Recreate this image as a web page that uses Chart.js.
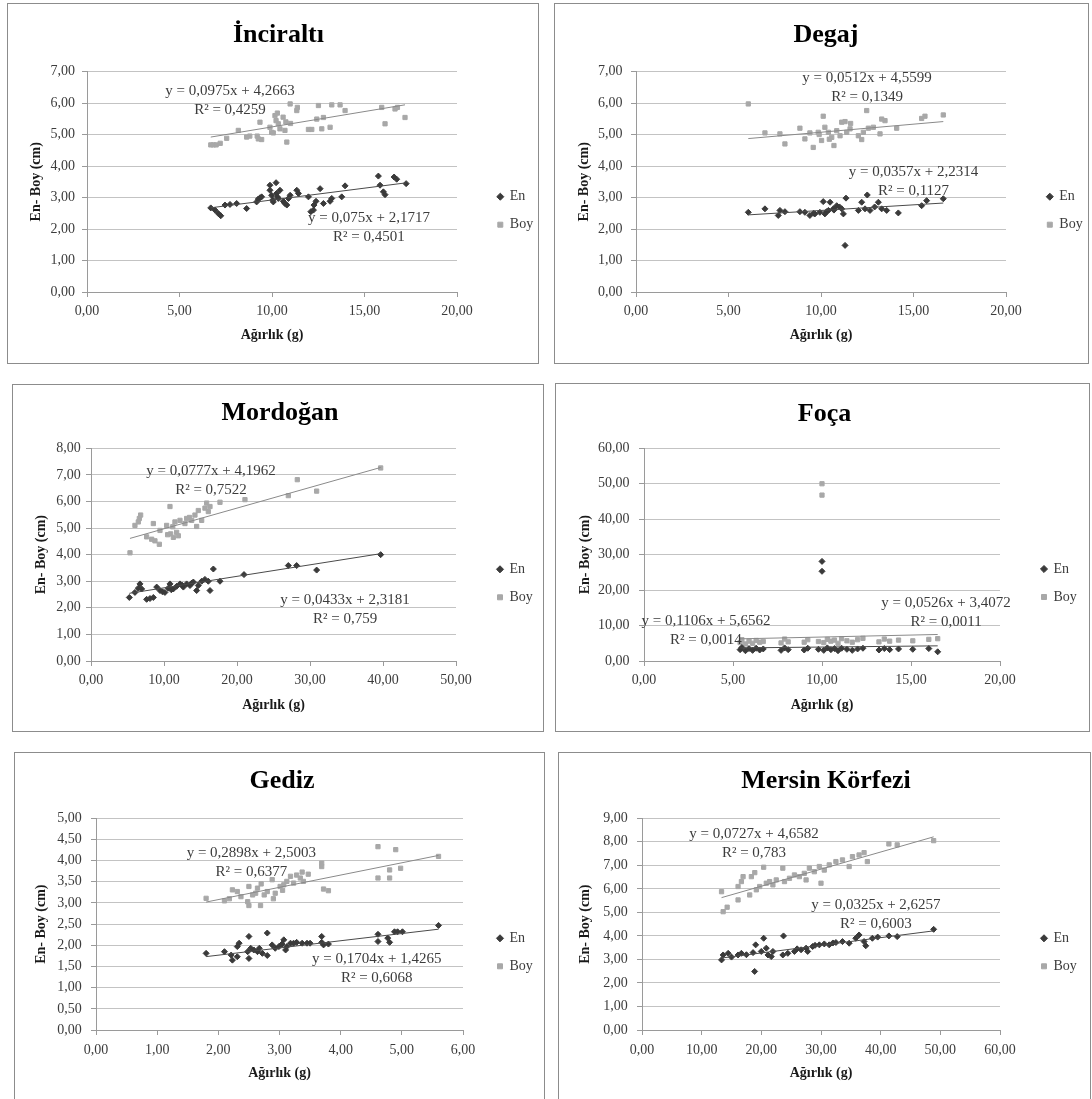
<!DOCTYPE html>
<html>
<head>
<meta charset="utf-8">
<script src="https://cdn.jsdelivr.net/npm/chart.js@4.4.1/dist/chart.umd.min.js"></script>
<style>
  html, body { margin: 0; padding: 0; background: #ffffff; width: 1092px; height: 1099px; overflow: hidden; position: relative; }
  .frame { position: absolute; box-sizing: border-box; border: 1px solid #8c8c8c; background: #ffffff; }
  canvas { position: absolute; }
</style>
</head>
<body>
<script>
// ---------- data: weight (g) vs width (En) and length (Boy) in cm ----------
// İnciraltı
const incEnX  = [6.69, 6.92, 7.10, 7.23, 7.46, 7.73, 8.09, 8.63, 9.17, 9.26, 9.35, 9.44, 9.89, 9.89, 9.98, 10.04, 10.07, 10.22, 10.25, 10.29, 10.34, 10.43, 10.61, 10.70, 10.80, 10.89, 10.98, 11.34, 11.43, 11.97, 12.10, 12.24, 12.27, 12.38, 12.60, 12.78, 13.14, 13.23, 13.77, 13.95, 15.75, 15.84, 16.02, 16.11, 16.60, 16.74, 17.25];
const incEnY  = [2.67, 2.60, 2.49, 2.42, 2.76, 2.78, 2.81, 2.65, 2.86, 2.95, 2.99, 3.02, 3.39, 3.23, 3.07, 2.92, 2.86, 3.47, 3.13, 3.02, 2.97, 3.23, 2.88, 2.81, 2.76, 2.97, 3.07, 3.23, 3.13, 3.02, 2.55, 2.60, 2.76, 2.88, 3.28, 2.81, 2.88, 2.97, 3.02, 3.37, 3.68, 3.39, 3.18, 3.09, 3.65, 3.58, 3.44];
const incBoyX = [6.69, 6.83, 6.98, 7.20, 7.55, 8.18, 8.63, 8.80, 9.20, 9.26, 9.35, 9.44, 9.89, 9.98, 10.07, 10.16, 10.22, 10.29, 10.34, 10.43, 10.60, 10.70, 10.75, 10.80, 10.98, 11.00, 11.34, 11.37, 11.97, 12.15, 12.42, 12.51, 12.69, 12.78, 13.14, 13.23, 13.68, 13.95, 15.93, 16.11, 16.65, 16.78, 17.19];
const incBoyY = [4.67, 4.67, 4.67, 4.72, 4.88, 5.13, 4.92, 4.95, 4.95, 4.86, 5.39, 4.84, 5.23, 5.07, 5.05, 5.60, 5.44, 5.68, 5.34, 5.18, 5.55, 5.13, 5.40, 4.76, 5.97, 5.35, 5.76, 5.86, 5.16, 5.16, 5.49, 5.92, 5.18, 5.54, 5.23, 5.94, 5.94, 5.76, 5.86, 5.34, 5.81, 5.86, 5.54];

// Degaj
const degEnX  = [6.07, 6.97, 7.69, 7.78, 8.05, 8.86, 9.13, 9.40, 9.60, 9.67, 9.94, 10.12, 10.21, 10.30, 10.40, 10.49, 10.67, 10.70, 10.85, 11.00, 11.12, 11.21, 11.30, 11.35, 12.02, 12.20, 12.38, 12.50, 12.65, 12.90, 13.10, 13.28, 13.55, 14.18, 15.44, 15.71, 16.61];
const degEnY  = [2.53, 2.64, 2.43, 2.59, 2.55, 2.55, 2.53, 2.43, 2.50, 2.48, 2.53, 2.87, 2.48, 2.55, 2.59, 2.85, 2.64, 2.60, 2.74, 2.70, 2.64, 2.48, 1.48, 2.98, 2.59, 2.85, 2.64, 3.08, 2.59, 2.70, 2.85, 2.64, 2.59, 2.51, 2.74, 2.90, 2.96];
const degBoyX = [6.07, 6.97, 7.78, 8.05, 8.86, 9.13, 9.40, 9.58, 9.85, 9.90, 10.03, 10.12, 10.21, 10.40, 10.45, 10.58, 10.70, 10.85, 11.03, 11.12, 11.30, 11.39, 11.57, 11.60, 12.02, 12.20, 12.29, 12.47, 12.56, 12.83, 13.19, 13.28, 13.46, 14.09, 15.44, 15.62, 16.61];
const degBoyY = [5.97, 5.05, 5.02, 4.70, 5.20, 4.86, 5.05, 4.59, 5.07, 5.00, 4.81, 5.58, 5.23, 5.07, 4.85, 4.91, 4.65, 5.12, 4.96, 5.39, 5.41, 5.07, 5.18, 5.35, 4.96, 4.84, 5.07, 5.76, 5.20, 5.23, 5.02, 5.49, 5.44, 5.20, 5.51, 5.58, 5.62];

// Mordoğan
const morEnX  = [5.25, 6.02, 6.48, 6.71, 6.94, 7.62, 8.08, 8.54, 9.00, 9.45, 9.80, 10.13, 10.59, 10.82, 11.00, 11.28, 11.73, 12.19, 12.50, 12.65, 13.10, 13.56, 13.80, 14.02, 14.47, 14.70, 15.16, 15.61, 16.07, 16.30, 16.76, 17.67, 20.96, 27.03, 28.17, 30.91, 39.68];
const morEnY  = [2.39, 2.58, 2.74, 2.90, 2.71, 2.32, 2.35, 2.39, 2.78, 2.65, 2.60, 2.58, 2.74, 2.90, 2.68, 2.71, 2.81, 2.90, 2.85, 2.78, 2.90, 2.84, 2.93, 2.97, 2.65, 2.84, 3.00, 3.07, 3.00, 2.65, 3.46, 3.00, 3.25, 3.59, 3.59, 3.42, 4.00];
const morBoyX = [5.34, 6.02, 6.48, 6.62, 6.80, 7.62, 8.31, 8.54, 8.76, 9.36, 9.45, 10.36, 10.50, 10.82, 10.91, 11.20, 11.28, 11.50, 11.73, 11.96, 12.19, 12.87, 13.10, 13.50, 13.79, 14.24, 14.47, 14.70, 15.16, 15.61, 15.84, 16.07, 16.30, 17.67, 21.09, 27.03, 28.26, 30.91, 39.68];
const morBoyY = [4.07, 5.10, 5.23, 5.36, 5.49, 4.67, 4.58, 5.17, 4.52, 4.39, 4.91, 5.10, 4.75, 5.81, 4.78, 5.05, 4.65, 5.23, 4.84, 4.71, 5.29, 5.17, 5.36, 5.40, 5.29, 5.49, 5.06, 5.66, 5.29, 5.75, 5.94, 5.62, 5.81, 5.97, 6.07, 6.22, 6.82, 6.39, 7.26];

// Foça
const focEnX  = [5.40, 5.50, 5.70, 5.90, 6.10, 6.30, 6.50, 6.70, 7.70, 7.90, 8.10, 9.00, 9.20, 9.80, 10.00, 10.00, 10.10, 10.30, 10.50, 10.70, 10.90, 11.10, 11.40, 11.70, 12.00, 12.30, 13.20, 13.50, 13.80, 14.30, 15.10, 16.00, 16.50];
const focEnY  = [3.2, 3.8, 2.9, 3.5, 3.0, 3.6, 3.1, 3.4, 3.0, 3.7, 3.2, 3.1, 3.6, 3.3, 28.1, 25.3, 3.0, 3.7, 3.2, 3.5, 2.9, 3.6, 3.3, 3.0, 3.4, 3.6, 3.1, 3.5, 3.2, 3.4, 3.3, 3.5, 2.6];
const focBoyX = [5.40, 5.50, 5.70, 5.90, 6.10, 6.30, 6.50, 6.70, 7.70, 7.90, 8.10, 9.00, 9.20, 9.80, 10.00, 10.00, 10.10, 10.30, 10.50, 10.70, 10.90, 11.10, 11.40, 11.70, 12.00, 12.30, 13.20, 13.50, 13.80, 14.30, 15.10, 16.00, 16.50];
const focBoyY = [5.2, 6.0, 4.8, 5.6, 5.0, 5.8, 5.3, 5.5, 5.1, 6.2, 5.4, 5.3, 6.0, 5.5, 50.0, 46.8, 5.2, 6.1, 5.6, 5.9, 5.0, 6.3, 5.7, 5.3, 6.0, 6.4, 5.4, 6.2, 5.6, 5.9, 5.7, 6.1, 6.3];

// Gediz
const gedEnX  = [1.80, 2.10, 2.21, 2.23, 2.31, 2.31, 2.34, 2.48, 2.50, 2.50, 2.53, 2.58, 2.64, 2.67, 2.72, 2.80, 2.80, 2.88, 2.93, 2.99, 3.04, 3.07, 3.10, 3.12, 3.18, 3.23, 3.28, 3.37, 3.45, 3.50, 3.69, 3.69, 3.72, 3.80, 4.61, 4.61, 4.77, 4.80, 4.88, 4.93, 5.01, 5.60];
const gedEnY  = [1.81, 1.85, 1.77, 1.65, 1.73, 1.97, 2.05, 1.85, 2.21, 1.69, 1.93, 1.89, 1.85, 1.93, 1.81, 2.29, 1.76, 2.01, 1.93, 1.97, 2.03, 2.13, 1.89, 1.97, 2.05, 2.05, 2.07, 2.05, 2.05, 2.05, 2.21, 2.07, 2.01, 2.03, 2.26, 2.09, 2.17, 2.07, 2.32, 2.32, 2.32, 2.47];
const gedBoyX = [1.80, 2.10, 2.18, 2.23, 2.31, 2.37, 2.48, 2.50, 2.50, 2.56, 2.61, 2.64, 2.69, 2.70, 2.75, 2.80, 2.88, 2.90, 2.93, 3.01, 3.05, 3.07, 3.12, 3.18, 3.23, 3.28, 3.34, 3.37, 3.39, 3.47, 3.69, 3.69, 3.72, 3.80, 4.61, 4.61, 4.80, 4.80, 4.90, 4.98, 5.60];
const gedBoyY = [3.11, 3.05, 3.10, 3.31, 3.27, 3.15, 3.03, 3.39, 2.94, 3.19, 3.23, 3.35, 2.94, 3.45, 3.19, 3.27, 3.55, 3.10, 3.23, 3.39, 3.30, 3.43, 3.51, 3.63, 3.47, 3.66, 3.59, 3.73, 3.51, 3.68, 3.94, 3.86, 3.33, 3.29, 4.33, 3.59, 3.78, 3.59, 4.26, 3.82, 4.10];

// Mersin Körfezi
const merEnX  = [13.33, 13.60, 14.44, 15.00, 16.10, 16.66, 17.50, 18.61, 18.88, 19.05, 19.99, 20.39, 20.83, 21.11, 21.66, 21.94, 23.60, 23.72, 24.44, 25.55, 26.00, 26.66, 27.50, 27.77, 28.60, 29.00, 29.72, 30.55, 31.38, 32.00, 32.50, 33.60, 34.72, 35.83, 36.38, 37.22, 37.50, 38.61, 39.50, 41.38, 42.77, 48.88];
const merEnY  = [2.98, 3.19, 3.26, 3.10, 3.19, 3.26, 3.20, 3.29, 2.49, 3.62, 3.34, 3.90, 3.48, 3.19, 3.12, 3.34, 3.19, 4.00, 3.26, 3.34, 3.45, 3.41, 3.48, 3.34, 3.55, 3.60, 3.62, 3.66, 3.62, 3.70, 3.72, 3.76, 3.69, 3.90, 4.04, 3.76, 3.58, 3.90, 3.95, 4.00, 3.97, 4.28];
const merBoyX = [13.33, 13.60, 14.27, 16.10, 16.10, 16.66, 16.94, 18.05, 18.33, 18.90, 19.16, 19.72, 20.39, 20.83, 21.39, 21.94, 22.50, 23.60, 23.88, 24.72, 25.55, 26.38, 27.20, 27.50, 28.05, 28.88, 29.72, 30.00, 30.55, 31.38, 32.50, 33.60, 34.72, 35.27, 36.38, 37.22, 37.77, 41.38, 42.77, 48.88];
const merBoyY = [5.88, 5.03, 5.22, 5.53, 6.10, 6.31, 6.52, 5.74, 6.52, 6.69, 5.96, 6.10, 6.92, 6.24, 6.31, 6.17, 6.38, 6.88, 6.31, 6.45, 6.59, 6.52, 6.66, 6.38, 6.88, 6.73, 6.95, 6.24, 6.80, 7.02, 7.16, 7.23, 6.95, 7.37, 7.44, 7.54, 7.16, 7.91, 7.87, 8.05];

// Linear trendlines: [slope, intercept, R²]
const EN_TREND  = [[0.075, 2.1717, 0.4501], [0.0357, 2.2314, 0.1127], [0.0433, 2.3181, 0.759], [0.0526, 3.4072, 0.0011], [0.1704, 1.4265, 0.6068], [0.0325, 2.6257, 0.6003]];
const BOY_TREND = [[0.0975, 4.2663, 0.4259], [0.0512, 4.5599, 0.1349], [0.0777, 4.1962, 0.7522], [0.1106, 5.6562, 0.0014], [0.2898, 2.5003, 0.6377], [0.0727, 4.6582, 0.783]];

// Axis ranges: [min, max, step]
const X_RANGES = [[0, 20, 5], [0, 20, 5], [0, 50, 10], [0, 20, 5], [0, 6, 1], [0, 60, 10]];
const Y_RANGES = [[0, 7, 1], [0, 7, 1], [0, 8, 1], [0, 60, 10], [0, 5, 0.5], [0, 9, 1]];

const PANEL_TITLES = ['İnciraltı', 'Degaj', 'Mordoğan', 'Foça', 'Gediz', 'Mersin Körfezi'];
const SERIES_NAMES = ['En', 'Boy'];
const X_AXIS_TITLE = 'Ağırlık (g)';
const Y_AXIS_TITLE = 'En- Boy (cm)';

const SERIES = [
  [incEnX, incEnY, incBoyX, incBoyY],
  [degEnX, degEnY, degBoyX, degBoyY],
  [morEnX, morEnY, morBoyX, morBoyY],
  [focEnX, focEnY, focBoyX, focBoyY],
  [gedEnX, gedEnY, gedBoyX, gedBoyY],
  [merEnX, merEnY, merBoyX, merBoyY]
];

// ---------- page layout (page pixels) ----------
// box: frame [left, top, width, height]; plot: [left, top, right, bottom]
// eqEn / eqBoy: where the equation labels sit, in data units
const LAYOUT = [
  { box: [7, 3, 532, 361],   plot: [87, 71.5, 457, 292],    title: [278.5, 35],  xLabY: 311.7, xTitleY: 335,  yTitleX: 36.6, yLabR: 75,    legend: [500.3, 196.7], eqBoy: [7.73, 6.38],  eqEn: [15.24, 2.35] },
  { box: [554, 3, 535, 361], plot: [636, 71.5, 1006, 292],  title: [826, 35],    xLabY: 311.7, xTitleY: 335,  yTitleX: 584,  yLabR: 622.6, legend: [1049.8, 196.7], eqBoy: [12.49, 6.79], eqEn: [15.0, 3.81] },
  { box: [12, 384, 532, 348], plot: [91, 448.3, 456, 661],  title: [280, 413.3], xLabY: 680,   xTitleY: 705,  yTitleX: 41,   yLabR: 80.8,  legend: [500, 569.3],  eqBoy: [16.44, 7.13], eqEn: [34.8, 2.29] },
  { box: [555, 383, 535, 349], plot: [644, 448.3, 1000, 661], title: [824.5, 414.3], xLabY: 680, xTitleY: 705, yTitleX: 585,  yLabR: 629.6, legend: [1044, 569],   eqBoy: [3.48, 11.37], eqEn: [16.97, 16.45] },
  { box: [14, 752, 531, 360], plot: [96, 818.3, 463, 1030], title: [282, 781.7], xLabY: 1050,  xTitleY: 1073, yTitleX: 41,   yLabR: 81.8,  legend: [500, 938.3],  eqBoy: [2.54, 4.17],  eqEn: [4.59, 1.68] },
  { box: [558, 752, 533, 360], plot: [642, 818.3, 1000, 1030], title: [826, 781.7], xLabY: 1050, xTitleY: 1073, yTitleX: 585, yLabR: 627.8, legend: [1044, 938.3], eqBoy: [18.77, 8.35], eqEn: [39.2, 5.31] }
];

// ---------- styles ----------
const FONT = '"Liberation Serif", "Times New Roman", serif';
const EN_COLOR = '#3a3a3a';
const BOY_COLOR = '#a8a8a8';
const EN_TREND_COLOR = '#4a4a4a';
const BOY_TREND_COLOR = '#8a8a8a';
const GRID_COLOR = '#c3c3c3';
const AXIS_COLOR = '#9a9a9a';
const TEXT_COLOR = '#3c3c3c';
const TITLE_SIZE = 26, TICK_SIZE = 14, AXIS_TITLE_SIZE = 14, LEG_SIZE = 14, EQ_SIZE = 15;
const LEG_PAD = 14, LEG_BOX = 5, TICK_LEN = 5, EXTRA_W = 14;

const comma = v => String(v).replace('.', ',');
const fixed2 = v => Number(v).toFixed(2).replace('.', ',');
const points = (xs, ys) => xs.map((x, i) => ({ x, y: ys[i] }));
const trendPoints = (xs, t) => {
  const lo = Math.min(...xs), hi = Math.max(...xs);
  return [{ x: lo, y: t[0] * lo + t[1] }, { x: hi, y: t[0] * hi + t[1] }];
};

// Equation + R² labels beside each trendline
const trendLabels = {
  id: 'trendLabels',
  afterDatasetsDraw(chart, args, opts) {
    const { ctx, scales } = chart;
    ctx.save();
    ctx.font = `${EQ_SIZE}px ${FONT}`;
    ctx.fillStyle = TEXT_COLOR;
    ctx.textAlign = 'center';
    ctx.textBaseline = 'middle';
    opts.items.forEach(it => {
      const px = scales.x.getPixelForValue(it.at[0]);
      const py = scales.y.getPixelForValue(it.at[1]);
      ctx.fillText(`y = ${comma(it.t[0])}x + ${comma(it.t[1])}`, px, py);
      ctx.fillText(`R² = ${comma(it.t[2])}`, px, py + 19);
    });
    ctx.restore();
  }
};

const measure = document.createElement('canvas').getContext('2d');
measure.font = `${LEG_SIZE}px ${FONT}`;
const legendTextW = Math.max(...SERIES_NAMES.map(n => measure.measureText(n).width));
const legendW = LEG_PAD + LEG_BOX + LEG_SIZE / 2 + legendTextW + 10;

// frames first, canvases on top
LAYOUT.forEach(L => {
  const f = document.createElement('div');
  f.className = 'frame';
  f.style.left = L.box[0] + 'px'; f.style.top = L.box[1] + 'px';
  f.style.width = L.box[2] + 'px'; f.style.height = L.box[3] + 'px';
  document.body.appendChild(f);
});

LAYOUT.forEach((L, i) => {
  const ox = L.box[0] + 1, oy = L.box[1] + 1;
  const cw = L.box[2] - 2 + EXTRA_W, ch = L.box[3] - 2;
  const cv = document.createElement('canvas');
  cv.width = cw; cv.height = ch;
  cv.style.left = ox + 'px'; cv.style.top = oy + 'px';
  cv.style.width = cw + 'px'; cv.style.height = ch + 'px';
  document.body.appendChild(cv);

  const Lc = L.plot[0] - ox, Tc = L.plot[1] - oy, Rc = L.plot[2] - ox, Bc = L.plot[3] - oy;
  const legendLeft = L.legend[0] - ox - LEG_PAD - LEG_BOX / 2;
  const padRight = Math.max(0, cw - legendLeft - legendW);
  const spacerW = cw - padRight - legendW - Rc;
  const padLeft = Math.max(0, 2 * (L.title[0] - ox) - cw + padRight);
  const yW = Lc - padLeft;
  const xH = ch - Bc;

  const titleLH = TITLE_SIZE * 1.2;
  const titleTop = (L.title[1] - oy) - titleLH / 2;
  const titleBottom = Tc - titleTop - titleLH;

  const axisLH = AXIS_TITLE_SIZE * 1.2, tickLH = TICK_SIZE * 1.2;
  const xTickPad = (L.xLabY - L.plot[3]) - tickLH / 2 - TICK_LEN;
  const yTickPad = (L.plot[0] - L.yLabR) - TICK_LEN;
  const xTitlePad = ch - (L.xTitleY - oy) - axisLH / 2;
  const yTitlePad = (L.yTitleX - ox) - padLeft - axisLH / 2;

  const colH = 2 * (LEG_SIZE + LEG_PAD);
  const legTitleH = 2 * ((L.legend[1] - oy) - LEG_SIZE / 2) - Tc - LEG_PAD - Bc + colH;

  const [enX, enY, boyX, boyY] = SERIES[i];
  const xr = X_RANGES[i], yr = Y_RANGES[i];

  new Chart(cv, {
    type: 'scatter',
    data: {
      datasets: [
        { label: SERIES_NAMES[0], data: points(enX, enY), pointStyle: 'rectRot', radius: 3, borderWidth: 1,
          backgroundColor: EN_COLOR, borderColor: EN_COLOR, order: 2, xAxisID: 'x', yAxisID: 'y' },
        { label: SERIES_NAMES[1], data: points(boyX, boyY), pointStyle: 'rect', radius: 3, borderWidth: 1,
          backgroundColor: BOY_COLOR, borderColor: BOY_COLOR, order: 2, xAxisID: 'x', yAxisID: 'y' },
        { label: 'trend-en', isTrend: true, data: trendPoints(enX, EN_TREND[i]), showLine: true, pointRadius: 0,
          borderColor: EN_TREND_COLOR, borderWidth: 1, order: 1, xAxisID: 'x', yAxisID: 'y' },
        { label: 'trend-boy', isTrend: true, data: trendPoints(boyX, BOY_TREND[i]), showLine: true, pointRadius: 0,
          borderColor: BOY_TREND_COLOR, borderWidth: 1, order: 1, xAxisID: 'x', yAxisID: 'y' }
      ]
    },
    options: {
      responsive: false,
      animation: false,
      devicePixelRatio: 1,
      layout: { padding: { left: padLeft, right: padRight, top: 0, bottom: 0 } },
      plugins: {
        title: {
          display: true, text: PANEL_TITLES[i], color: '#000000',
          font: { family: FONT, size: TITLE_SIZE, weight: 'bold', lineHeight: 1.2 },
          padding: { top: titleTop, bottom: titleBottom }
        },
        legend: {
          display: true, position: 'right', align: 'center', fullSize: false,
          title: { display: true, text: '', font: { family: FONT, size: 10, lineHeight: 1 },
                   padding: { top: Math.max(0, legTitleH - 10), bottom: 0 } },
          labels: {
            usePointStyle: true, boxWidth: LEG_BOX, boxHeight: LEG_BOX, padding: LEG_PAD,
            color: TEXT_COLOR, font: { family: FONT, size: LEG_SIZE },
            filter: (item, data) => !data.datasets[item.datasetIndex].isTrend
          }
        },
        tooltip: { enabled: false },
        trendLabels: {
          items: [
            { t: BOY_TREND[i], at: L.eqBoy },
            { t: EN_TREND[i], at: L.eqEn }
          ]
        }
      },
      scales: {
        x: {
          type: 'linear', position: 'bottom', min: xr[0], max: xr[1],
          ticks: { stepSize: xr[2], callback: fixed2, color: TEXT_COLOR, font: { family: FONT, size: TICK_SIZE },
                   padding: xTickPad, maxRotation: 0, autoSkip: false },
          grid: { display: true, drawOnChartArea: false, drawTicks: true, tickLength: TICK_LEN, color: AXIS_COLOR },
          border: { display: true, color: AXIS_COLOR },
          title: { display: true, text: X_AXIS_TITLE, color: '#1a1a1a',
                   font: { family: FONT, size: AXIS_TITLE_SIZE, weight: 'bold', lineHeight: 1.2 },
                   padding: { top: 0, bottom: xTitlePad } },
          afterFit: s => { s.height = xH; }
        },
        y: {
          type: 'linear', position: 'left', min: yr[0], max: yr[1],
          ticks: { stepSize: yr[2], callback: fixed2, color: TEXT_COLOR, font: { family: FONT, size: TICK_SIZE },
                   padding: yTickPad, autoSkip: false },
          grid: { color: GRID_COLOR, lineWidth: 1, drawTicks: true, tickLength: TICK_LEN, tickColor: AXIS_COLOR },
          border: { display: true, color: AXIS_COLOR },
          title: { display: true, text: Y_AXIS_TITLE, color: '#1a1a1a',
                   font: { family: FONT, size: AXIS_TITLE_SIZE, weight: 'bold', lineHeight: 1.2 },
                   padding: { top: yTitlePad, bottom: 0 } },
          afterFit: s => { s.width = yW; }
        },
        gap: {
          type: 'linear', position: 'right', min: 0, max: 1, display: true,
          grid: { display: false, drawTicks: false }, ticks: { display: false },
          border: { display: false }, title: { display: false },
          afterFit: s => { s.width = spacerW; }
        }
      }
    },
    plugins: [trendLabels]
  });
});
</script>
</body>
</html>
